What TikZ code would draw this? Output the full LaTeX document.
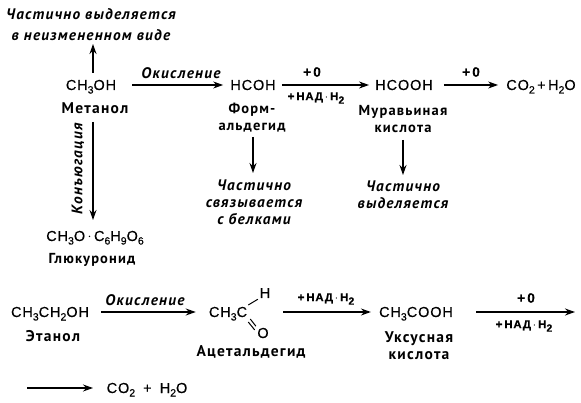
\documentclass[tikz,border=0pt]{standalone}
\usepackage{fontspec}
\usetikzlibrary{arrows.meta}
\setmainfont{PT Sans}
\newfontfamily\chemf[LetterSpace=6,FakeBold=0.4]{Liberation Sans}
\newfontfamily\capf[LetterSpace=8]{PT Sans}
\newfontfamily\itf[LetterSpace=8]{PT Sans Italic}
\newcommand{\sbs}[1]{\raisebox{-3.5pt}{\fontsize{10.5}{10.5}\selectfont #1}}
\tikzset{
 x=1pt,y=-1pt,
 chemlbl/.style={font=\chemf\fontsize{14.5}{16}\selectfont,inner sep=0pt,text height=10pt,text depth=0pt,anchor=center},
 smalllbl/.style={font=\chemf\bfseries\fontsize{11.5}{13}\selectfont,inner sep=0pt},
 pluslbl/.style={font=\chemf\bfseries\fontsize{13.5}{15}\selectfont,inner sep=0pt},
 caplbl/.style={font=\capf\bfseries\fontsize{14.5}{17}\selectfont,inner sep=0pt,align=center},
 widelbl/.style={font=\capf\bfseries\fontsize{15.5}{17}\selectfont,inner sep=0pt,align=center},
 itlbl/.style={font=\itf\bfseries\fontsize{15.3}{17}\selectfont,inner sep=0pt,align=center},
 arr/.style={-{Stealth[length=10pt,width=7pt]},line width=1.3pt},
 bond/.style={line width=1pt},
}
\begin{document}
\begin{tikzpicture}
\useasboundingbox (0,0) rectangle (581,403);
\node[itlbl] (t1) at (91,25) {Частично выделяется\\[4pt]в неизмененном виде};
\node[chemlbl] (m) at (91,85) {CH\sbs{3}OH};
\node[widelbl] (mn) at (95,108) {Метанол};
\node[chemlbl] (f) at (253,85) {HCOH};
\node[caplbl] (fn) at (252,118) {Форм-\\альдегид};
\node[itlbl] (fb) at (254,202) {Частично\\связывается\\с белками};
\node[chemlbl] (a) at (404,85) {HCOOH};
\node[caplbl] (an) at (403,119) {Муравьиная\\кислота};
\node[itlbl] (ab) at (403,195) {Частично\\выделяется};
\node[chemlbl] (c) at (541,85) {CO\sbs{2}\,+\,H\sbs{2}O};
\node[chemlbl] (g) at (95,236) {CH\sbs{3}O\,$\cdot$\,C\sbs{6}H\sbs{9}O\sbs{6}};
\node[caplbl] (gn) at (92,260) {Глюкуронид};
\node[itlbl,rotate=90] (kon) at (78,169) {Конъюгация};
\node[itlbl] (ok1) at (181,73) {Окисление};
\node[pluslbl] (p1) at (312,72) {+\,0};
\node[smalllbl] (n1) at (316,98) {+\,НАД\,$\cdot$\,H\sbs{2}};
\node[pluslbl] (p2) at (471,72) {+\,0};
\node[chemlbl] (e) at (50,312) {CH\sbs{3}CH\sbs{2}OH};
\node[widelbl] (en) at (53,336) {Этанол};
\node[chemlbl] (h) at (228,312) {CH\sbs{3}C};
\node[chemlbl] (hh) at (265,293) {H};
\node[chemlbl] (ho) at (263,333) {O};
\node[widelbl] (hn) at (251,352) {Ацетальдегид};
\node[chemlbl] (u) at (416,312) {CH\sbs{3}COOH};
\node[widelbl] (un) at (419,346) {Уксусная\\кислота};
\node[itlbl] (ok2) at (145,300) {Окисление};
\node[smalllbl] (n2) at (326,299) {+\,НАД\,$\cdot$\,H\sbs{2}};
\node[pluslbl] (p3) at (526,298) {+\,0};
\node[smalllbl] (n3) at (524,326) {+\,НАД\,$\cdot$\,H\sbs{2}};
\coordinate (r1) at (476,312);
\coordinate (r2) at (575,312);
\coordinate (l1) at (27,388);
\coordinate (l2) at (93,388);
\node[chemlbl] (c2) at (147,388) {CO\sbs{2}\;\;+\;\;H\sbs{2}O};
\coordinate (up1) at (93,73);
\coordinate (up2) at (93,44);
\coordinate (d1) at (93,122);
\coordinate (d2) at (93,220);
\coordinate (fd1) at (253,137);
\coordinate (fd2) at (253,173);
\coordinate (ad1) at (403,140);
\coordinate (ad2) at (403,175);
\draw[arr] (up1) -- (up2);
\draw[arr,shorten <=16pt,shorten >=7pt] (m) -- (f);
\draw[arr,shorten <=6pt,shorten >=6pt] (f) -- (a);
\draw[arr,shorten <=11pt,shorten >=8pt] (a) -- (c);
\draw[arr] (d1) -- (d2);
\draw[arr] (fd1) -- (fd2);
\draw[arr] (ad1) -- (ad2);
\draw[arr,shorten <=12pt,shorten >=13pt] (e) -- (h);
\draw[arr,shorten <=13pt,shorten >=8pt] (h.east -| hh.east) -- (u);
\draw[arr] (r1) -- (r2);
\draw[arr] (l1) -- (l2);
\draw[bond,shorten >=2pt] (h.east) ++(1,-7) -- (hh.south west);
\draw[bond,shorten >=2pt] (h.east) ++(3,7) -- (ho.north west);
\draw[bond,shorten >=4pt] (h.east) ++(1,10) -- (ho.west);
\end{tikzpicture}
\end{document}
